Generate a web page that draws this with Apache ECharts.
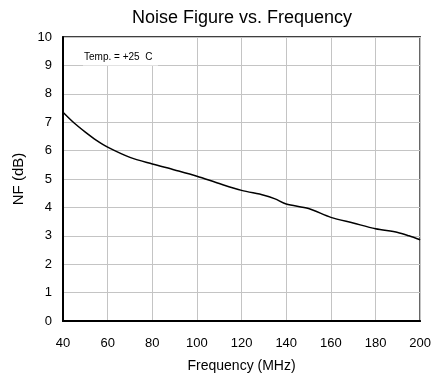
<!DOCTYPE html>
<html>
<head>
<meta charset="utf-8">
<script src="https://cdn.jsdelivr.net/npm/echarts@6/dist/echarts.min.js"></script>
<style>
  html, body { margin: 0; padding: 0; background: #fff; }
  #chart { width: 434px; height: 379px; }
</style>
</head>
<body>
<div id="chart"></div>
<script>
// Noise figure of the amplifier across frequency at +25 C
const frequencyMHz = [40, 45, 50, 55, 60, 70, 80, 90, 100, 110, 120, 130, 135, 140, 150, 160, 170, 180, 190, 195, 200];
const noiseFigureDb = [7.35, 6.97, 6.65, 6.36, 6.12, 5.76, 5.53, 5.32, 5.10, 4.84, 4.60, 4.43, 4.30, 4.12, 3.96, 3.65, 3.45, 3.25, 3.12, 3.00, 2.86];
const xTicks = [40, 60, 80, 100, 120, 140, 160, 180, 200];
const yTicks = [0, 1, 2, 3, 4, 5, 6, 7, 8, 9, 10];

const FONT = '"Liberation Sans", Arial, sans-serif';
const chart = echarts.init(document.getElementById('chart'), null, { renderer: 'canvas' });

const points = frequencyMHz.map((f, i) => [f, noiseFigureDb[i]]);

chart.setOption({
  animation: false,
  backgroundColor: '#fff',
  title: {
    text: 'Noise Figure vs. Frequency',
    left: 242,
    top: 9,
    padding: 0,
    textAlign: 'center',
    textStyle: { fontFamily: FONT, fontSize: 18, fontWeight: 'normal', color: '#000' }
  },
  grid: {
    left: 63, right: 11, top: 37, bottom: 58,
    show: true, borderColor: '#000', borderWidth: 1.5, backgroundColor: 'transparent'
  },
  xAxis: {
    type: 'value',
    min: xTicks[0],
    max: xTicks[xTicks.length - 1],
    interval: 20,
    name: 'Frequency (MHz)',
    nameLocation: 'middle',
    nameGap: 38,
    nameTextStyle: { fontFamily: FONT, fontSize: 14, color: '#000' },
    axisLine: { show: true, lineStyle: { color: '#000', width: 2 } },
    axisTick: { show: false },
    axisLabel: { fontFamily: FONT, fontSize: 13, color: '#000', margin: 16 },
    splitLine: { show: true, lineStyle: { color: '#c4c4c4', width: 1 } }
  },
  yAxis: {
    type: 'value',
    min: yTicks[0],
    max: yTicks[yTicks.length - 1],
    interval: 1,
    name: 'NF (dB)',
    nameLocation: 'middle',
    nameGap: 31,
    nameTextStyle: { fontFamily: FONT, fontSize: 15, color: '#000' },
    axisLine: { show: true, lineStyle: { color: '#000', width: 2 } },
    axisTick: { show: false },
    axisLabel: { fontFamily: FONT, fontSize: 13, color: '#000', margin: 11 },
    splitLine: { show: true, lineStyle: { color: '#c4c4c4', width: 1 } }
  },
  series: [{
    type: 'line',
    data: points,
    showSymbol: false,
    smooth: 0.3,
    lineStyle: { color: '#000', width: 1.5 },
    z: 3
  }],
  graphic: [
    {
      type: 'rect',
      shape: { x: 83, y: 38, width: 75, height: 27.5 },
      style: { fill: '#fff' },
      z: 10
    },
    {
      type: 'text',
      x: 84, y: 57,
      style: {
        text: 'Temp. = +25  C',
        fill: '#000',
        font: '10px ' + FONT,
        textVerticalAlign: 'middle',
        verticalAlign: 'middle'
      },
      z: 11
    }
  ]
});
</script>
</body>
</html>
